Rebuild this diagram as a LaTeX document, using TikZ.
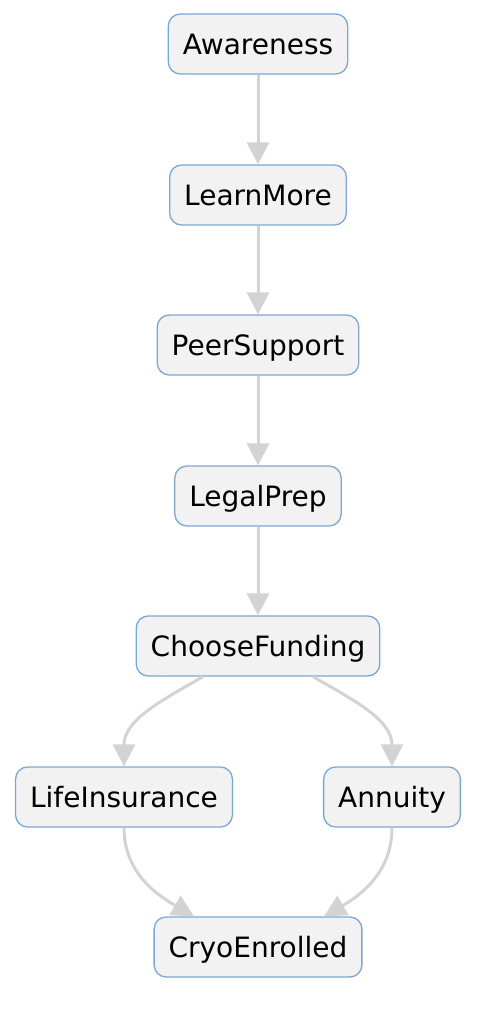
\documentclass[tikz,border=0pt]{standalone}
\usepackage{fontspec}
\setmainfont{DejaVu Sans}
\usetikzlibrary{arrows.meta}

\definecolor{boxfill}{HTML}{F2F2F2}
\definecolor{boxline}{HTML}{7BA7D4}
\definecolor{linkgray}{HTML}{D3D3D3}

\tikzset{
	stepbox/.style={draw=boxline, fill=boxfill, line width=1.3pt, rounded corners=12pt,
		minimum height=60pt, inner xsep=14.5pt, text height=26pt, text depth=5pt,
		font=\fontsize{28}{33}\selectfont},
	link/.style={draw=linkgray, line width=3pt, -{Triangle[width=22pt,length=22pt]}}
}

\begin{document}
\begin{tikzpicture}[x=1pt, y=-1pt]
		\useasboundingbox (0, 0) rectangle (490, 1024);
		
		% main chain
		\node[stepbox] (aware) at (258, 44) {Awareness};
		\node[stepbox] (learn) at (258, 195) {LearnMore};
		\node[stepbox] (peer) at (258, 345) {PeerSupport};
		\node[stepbox] (legal) at (258, 496) {LegalPrep};
		\node[stepbox] (choose) at (258, 646) {ChooseFunding};
		
		% funding options
		\node[stepbox] (lifeins) at (124, 797) {LifeInsurance};
		\node[stepbox] (annuity) at (392, 797) {Annuity};
		
		% end
		\node[stepbox] (cryo) at (258, 947) {CryoEnrolled};
		
		\draw[link] (aware) -- (learn);
		\draw[link] (learn) -- (peer);
		\draw[link] (peer) -- (legal);
		\draw[link] (legal) -- (choose);
		
		\draw[link] ([xshift=-55pt]choose.south) to[out=-150, in=90] (lifeins.north);
		\draw[link] ([xshift=55pt]choose.south) to[out=-30, in=90] (annuity.north);
		\draw[link] (lifeins.south) to[out=-90, in=150] ([xshift=-64pt]cryo.north);
		\draw[link] (annuity.south) to[out=-90, in=30] ([xshift=66pt]cryo.north);
		
	\end{tikzpicture}
\end{document}
